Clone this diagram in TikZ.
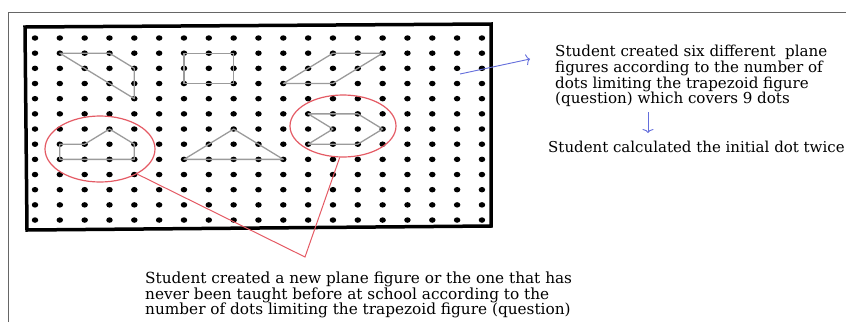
\documentclass[tikz,border=0pt]{standalone}
\usepackage{fontspec}
\setmainfont{DejaVu Serif}
\usepackage{tikz}
\usetikzlibrary{shapes,arrows,arrows.meta,calc,positioning}
\definecolor{shapegray}{RGB}{155,155,155}
\definecolor{ringred}{RGB}{228,90,100}
\definecolor{noteblue}{RGB}{100,110,220}
\tikzstyle{gdot}=[ellipse, fill=black, inner sep=0pt, minimum width=6.5pt, minimum height=5.5pt]
\tikzstyle{fig}=[draw=shapegray, line width=1.3pt, line join=round]
\tikzstyle{ring}=[ellipse, draw=ringred, line width=1.2pt, inner sep=0pt]
\tikzstyle{callout}=[draw=ringred, line width=1pt]
\tikzstyle{bluearr}=[draw=noteblue, line width=0.9pt, -{To[length=4pt,width=11pt]}]
\tikzstyle{note}=[align=left, inner sep=0pt, anchor=north west]

\begin{document}
\begin{tikzpicture}[x=1pt,y=-1pt]
	\useasboundingbox (0,0) rectangle (846,322);
	% page frame, cut at right and bottom
	\draw[gray!80!black, line width=0.8pt] (8,322) -- (8,12) -- (846,12);

	%%% dot paper
	\foreach \i in {0,...,18} {
		\foreach \j in {0,...,12} {
			\node[gdot] (d-\i-\j) at ({35+24.83*\i},{38+15.17*\j}) {};
		}
	}
	\draw[line width=3.5pt] (25,27) -- (491,24) -- (491,226) -- (27,230) -- cycle;

	%%% student figures
	\draw[fig] (d-1-1.center) -- (d-3-1.center) -- (d-4-2.center) -- (d-4-4.center) -- cycle;
	\draw[fig] (d-6-1.center) -- (d-8-1.center) -- (d-8-3.center) -- (d-6-3.center) -- cycle;
	\draw[fig] (d-10-3.center) -- (d-12-1.center) -- (d-14-1.center) -- (d-12-3.center) -- cycle;
	\draw[fig] (d-1-7.center) -- (d-2-7.center) -- (d-3-6.center) -- (d-4-7.center) -- (d-4-8.center) -- (d-1-8.center) -- cycle;
	\draw[fig] (d-6-8.center) -- (d-8-6.center) -- (d-10-8.center) -- cycle;
	\draw[fig] (d-11-5.center) -- (d-13-5.center) -- (d-14-6.center) -- (d-13-7.center) -- (d-11-7.center) -- (d-12-6.center) -- cycle;

	%%% marked figures
	\node[ring, minimum width=110pt, minimum height=66pt] (ringL) at (100,149) {};
	\node[ring, minimum width=106pt, minimum height=62pt] (ringR) at (343,126) {};
	\coordinate (tip) at (305,257);
	\draw[callout] (ringL.-34) -- (tip) -- (ringR.-96);

	%%% notes
	\node[note, font=\fontsize{15.1}{14.4}\selectfont] (note1) at (555,45) {Student created six different\ \ plane\\figures according to the number of\\dots limiting the trapezoid figure\\(question) which covers 9 dots};
	\node[note, font=\fontsize{15}{15}\selectfont] (note2) at (548,141) {Student calculated the initial dot twice};
	\node[note, font=\fontsize{15.3}{15.5}\selectfont] (note3) at (145,272) {Student created a new plane figure or the one that has\\never been taught before at school according to the\\number of dots limiting the trapezoid figure (question)};

	\coordinate (blueFrom) at (460,74);
	\coordinate (blueTo) at (530,59);
	\draw[bluearr] (blueFrom) -- (blueTo);
	\coordinate (downFrom) at (648,112);
	\coordinate (downTo) at (648,133);
	\draw[bluearr] (downFrom) -- (downTo);
\end{tikzpicture}
\end{document}
